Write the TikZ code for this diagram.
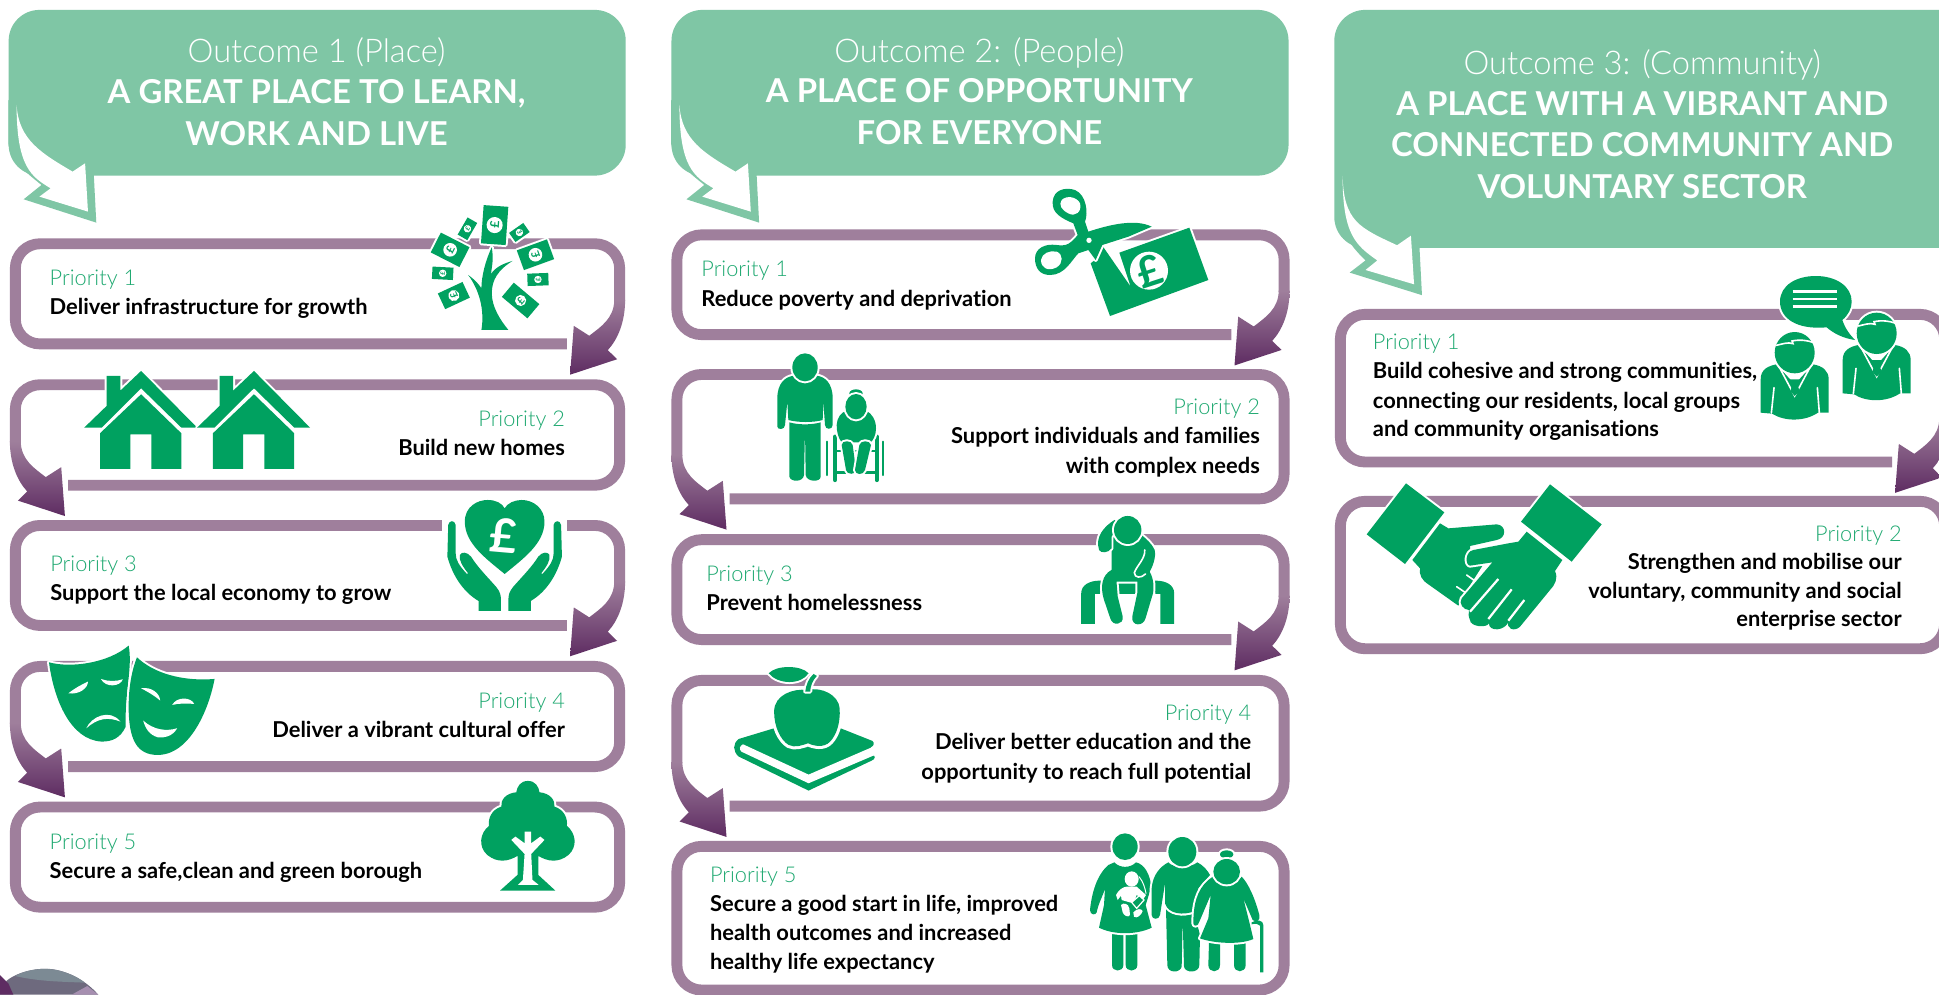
\documentclass[tikz,border=0pt]{standalone}
\usepackage{fontspec}
\setmainfont{Lato}
\newfontfamily\lightf[Ligatures=NoCommon]{Lato Light}
\newfontfamily\boldf[Ligatures=NoCommon]{Lato Bold}
\definecolor{igreen}{HTML}{00A160}
\definecolor{tgreen}{HTML}{1FA971}
\definecolor{cgreen}{HTML}{7FC6A5}
\definecolor{pbox}{HTML}{9F7F9C}
\definecolor{pdark}{HTML}{5E2C62}
\definecolor{sphA}{HTML}{6E6A7E}
\definecolor{sphB}{HTML}{7C8A94}
\definecolor{sphC}{HTML}{A68FB0}
\newcounter{tcnt}
\tikzset{
 ic/.style={fill=igreen,preaction={draw=white,line width=3.2pt,line join=round}},
 wl/.style={draw=white,line width=1.3pt,line cap=round},
 gl/.style={draw=igreen,line cap=round},
 boxline/.style={draw=pbox,line width=8.8pt,rounded corners=20pt},
 zA/.style={xscale=0.3356,yscale=0.2695},
 zE/.style={xscale=0.3193,yscale=0.351},
 crop/.style 2 args={shift={({#1/1.2366},{#2/1.2366})},scale=0.26955},
 lab/.style={inner sep=0pt,text=tgreen,font=\lightf\fontsize{17.6}{20}\selectfont},
 body/.style={inner sep=0pt,text=black,font=\boldf\fontsize{17.7}{20}\selectfont},
 toutl/.style={inner sep=0pt,text=white,font=\lightf\fontsize{26.4}{30}\selectfont},
 toutb/.style={inner sep=0pt,text=white,font=\boldf\fontsize{26.6}{30}\selectfont},
}
% text helpers: every line is a named node
\newcommand\labL[3]{\stepcounter{tcnt}\node[lab,anchor=base west] (t\thetcnt) at (#1,#2) {#3};}
\newcommand\labR[3]{\stepcounter{tcnt}\node[lab,anchor=base east] (t\thetcnt) at (#1,#2) {#3};}
\newcommand\bodL[3]{\stepcounter{tcnt}\node[body,anchor=base west] (t\thetcnt) at (#1,#2) {#3};}
\newcommand\bodR[3]{\stepcounter{tcnt}\node[body,anchor=base east] (t\thetcnt) at (#1,#2) {#3};}
\newcommand\ttlL[3]{\stepcounter{tcnt}\node[toutl,anchor=base] (t\thetcnt) at (#1,#2) {#3};}
\newcommand\ttlB[3]{\stepcounter{tcnt}\node[toutb,anchor=base] (t\thetcnt) at (#1,#2) {#3};}
% priority box with arrow: x0 arrow side, x1 far side, yT, yB, s (+1 arrow right, -1 arrow left)
\newcommand\pboxarrow[5]{%
 \draw[boxline] ({#1-#5*47},{#4-4.4}) -- ({#2+#5*4.4},{#4-4.4}) -- ({#2+#5*4.4},{#3+4.4}) -- ({#1-#5*4.4},{#3+4.4}) -- ({#1-#5*4.4},{#4-39});
 \shade[top color=pbox,bottom color=pdark] ({#1},{#4-40}) .. controls ({#1},{#4-22}) and ({#1-#5*6},{#4-8}) .. ({#1-#5*14},{#4+0.6}) -- ({#1-#5*6.5},{#4+8}) -- ({#1-#5*44.5},{#4+20.5}) -- ({#1-#5*41.5},{#4-19}) -- ({#1-#5*29},{#4-11}) .. controls ({#1-#5*20},{#4-18}) and ({#1-#5*8.8},{#4-25}) .. ({#1-#5*8.8},{#4-40}) -- cycle;
}
\newcommand\pboxplain[4]{\draw[boxline] ({#1+4.4},{#3+4.4}) -- ({#2-4.4},{#3+4.4}) -- ({#2-4.4},{#4-4.4}) -- ({#1+4.4},{#4-4.4}) -- cycle;}
\newcommand\bill[7]{\begin{scope}[shift={(#1,#2)},rotate=#3]
 \path[ic] ({-#4/2},{-#5/2}) rectangle ({#4/2},{#5/2});
 \fill[white] (0,0) circle[radius=#6pt];
 \node[transform shape,inner sep=0pt,text=igreen,rotate=90,font=\boldf\fontsize{#7}{#7}\selectfont] at (0,0) {£};
\end{scope}}
\newcommand\suitman{%
 \path[ic] (278,385) -- (278,285) .. controls (278,255) and (300,245) .. (325,240) -- (380,300) -- (435,240) .. controls (465,245) and (482,260) .. (482,285) -- (482,385) -- (450,385) .. controls (410,412) and (350,412) .. (312,388) -- cycle;
 \draw[wl] (318,310) -- (310,386); \draw[wl] (448,310) -- (454,386);
 \draw[wl] (332,245) -- (380,335) -- (428,245);
 \fill[igreen] (365,285) -- (395,285) -- (388,302) -- (395,320) -- (380,335) -- (367,320) -- (373,302) -- cycle;
 \path[ic] (380,205) ellipse[x radius=60,y radius=62];
 \draw[wl] (325,183) .. controls (340,180) and (360,172) .. (375,178) -- (372,170) .. controls (395,165) and (420,168) .. (437,175);
}
\newcommand\openhand{%
 \fill[igreen] (1078,170) -- (1080,75) .. controls (1082,60) and (1096,60) .. (1098,75) -- (1098,160) .. controls (1098,180) and (1105,195) .. (1125,222) -- (1128,220) .. controls (1115,200) and (1105,180) .. (1108,165) .. controls (1112,155) and (1125,155) .. (1135,170) .. controls (1150,200) and (1170,225) .. (1195,260) .. controls (1205,275) and (1207,285) .. (1207,300) -- (1207,333) -- (1153,333) -- (1153,303) .. controls (1115,275) and (1090,225) .. (1078,170) -- cycle;
}
\begin{document}
\begin{tikzpicture}[x=1pt,y=-1pt]
\useasboundingbox (0,0) rectangle (1568,804);
\clip (0,0) rectangle (1568,804);
\fill[white] (0,0) rectangle (1568,804);
% ---- decorative sphere, bottom left
\begin{scope}[crop={0}{950}]
 \fill[sphA] (20,92) .. controls (60,60) and (130,50) .. (170,60) .. controls (220,70) and (265,100) .. (295,134) -- (0,134) -- cycle;
 \fill[sphB] (45,78) .. controls (80,58) and (130,52) .. (170,60) .. controls (205,68) and (235,82) .. (255,98) .. controls (190,95) and (120,95) .. (45,78) -- cycle;
 \fill[pdark] (0,75) -- (25,100) -- (40,134) -- (0,134) -- cycle;
 \fill[sphC] (215,134) -- (262,108) -- (295,134) -- cycle;
\end{scope}
% ---- callouts
\foreach \dx in {0,536}{
 \begin{scope}[shift={(\dx,0)}]
  \fill[cgreen,rounded corners=25pt] (7,8) rectangle (506,142);
  \begin{scope}[zA]
   \fill[cgreen] (20,300) -- (20,430) .. controls (25,480) and (60,515) .. (100,555) -- (57,598) -- (232,668) -- (225,500) -- cycle;
   \fill[white] (40,315) .. controls (45,420) and (100,460) .. (175,515) -- (205,490) -- (212,635) -- (95,590) -- (122,565) .. controls (75,530) and (40,500) .. (40,315) -- cycle;
  \end{scope}
 \end{scope}
}
\fill[cgreen,rounded corners=25pt] (1079,8) rectangle (1600,200.5);
\begin{scope}[shift={(1067.5,0)},zE]
 \fill[cgreen] (38,400) -- (38,450) .. controls (40,520) and (70,560) .. (115,600) -- (75,628) -- (258,680) -- (250,540) -- cycle;
 \fill[white] (57,405) .. controls (60,510) and (100,525) .. (195,565) -- (230,543) -- (238,655) -- (115,622) -- (145,600) .. controls (90,565) and (57,540) .. (57,405) -- cycle;
\end{scope}
% ---- priority boxes: column 1
\pboxarrow{505.5}{8}{192.7}{282.5}{1}
\pboxarrow{8}{505.5}{306.7}{396.8}{-1}
\pboxarrow{505.5}{8}{420.5}{510.2}{1}
\pboxarrow{8}{505.5}{534.5}{624.3}{-1}
\pboxplain{8}{505.5}{648.2}{738}
% column 2
\pboxarrow{1042.8}{543}{185.5}{275}{1}
\pboxarrow{543}{1042.8}{298.4}{407.8}{-1}
\pboxarrow{1042.8}{543}{432}{521.6}{1}
\pboxarrow{543}{1042.8}{545.8}{656.3}{-1}
\pboxplain{543}{1042.8}{680}{805}
% column 3
\pboxarrow{1577}{1079.5}{249.8}{378}{1}
\pboxplain{1079.5}{1577}{401}{529}
% ---- ICONS
% money tree
\begin{scope}[zA]
 \path[ic] (1160,990) .. controls (1168,930) and (1155,870) .. (1128,825) .. controls (1145,840) and (1155,855) .. (1160,865) .. controls (1160,830) and (1170,780) .. (1185,742) .. controls (1190,780) and (1185,800) .. (1183,822) .. controls (1195,800) and (1215,790) .. (1235,783) .. controls (1200,810) and (1185,840) .. (1185,880) .. controls (1185,920) and (1205,960) .. (1225,990) -- cycle;
\end{scope}
\bill{400}{182}{-4}{20}{31}{6.5}{10}
\bill{378}{185}{-30}{9}{16}{3}{5}
\bill{420}{188}{35}{14}{9}{3}{5}
\bill{364}{202}{-27}{26}{18}{5.5}{9}
\bill{433}{206}{20}{26}{17}{5.5}{9}
\bill{358}{221}{-3}{17}{10}{3}{5}
\bill{435}{226}{2}{17}{10}{3}{5}
\bill{367}{239}{25}{22}{14}{4.5}{8}
\bill{421}{243}{-40}{27}{15}{4.5}{8}
% houses
\begin{scope}[zA]
 \foreach \dx in {0,272}{
 \begin{scope}[shift={(\dx,0)}]
  \path[ic] (203,1283) -- (257,1218) -- (257,1128) -- (290,1128) -- (290,1172) -- (340,1113) -- (475,1283) -- (437,1283) -- (340,1165) -- (245,1283) -- cycle;
  \fill[igreen] (340,1183) -- (437,1300) -- (437,1407) -- (365,1407) -- (365,1303) -- (314,1303) -- (314,1407) -- (241,1407) -- (241,1300) -- cycle;
 \end{scope}}
\end{scope}
% heart and hands
\begin{scope}[shift={(0,404.3)},zA]
 \fill[white] (1066,50) rectangle (1366,100);
 \path[ic] (1216,222) .. controls (1170,175) and (1120,130) .. (1120,65) .. controls (1120,20) and (1150,0) .. (1175,0) .. controls (1195,0) and (1210,10) .. (1216,25) .. controls (1222,10) and (1240,0) .. (1257,0) .. controls (1285,0) and (1312,25) .. (1312,65) .. controls (1312,130) and (1262,175) .. (1216,222) -- cycle;
 \openhand
 \begin{scope}[shift={(2432,0)},xscale=-1]\openhand\end{scope}
 \node[inner sep=0pt,text=white,rotate=-5,font=\boldf\fontsize{38}{38}\selectfont] (pound1) at (1213,108) {£};
\end{scope}
% masks
\begin{scope}[shift={(0,404.3)},zA]
 \path[ic] (118,487) .. controls (170,505) and (260,490) .. (310,437) .. controls (320,500) and (300,580) .. (303,680) .. controls (290,715) and (270,725) .. (245,725) .. controls (170,720) and (130,600) .. (118,487) -- cycle;
 \fill[white] (165,580) .. controls (180,565) and (195,555) .. (212,545) .. controls (212,565) and (190,585) .. (165,580) -- cycle;
 \fill[white] (243,537) .. controls (260,545) and (280,545) .. (296,538) .. controls (290,560) and (255,565) .. (243,537) -- cycle;
 \fill[white] (208,685) .. controls (220,650) and (265,625) .. (290,665) .. controls (260,650) and (235,655) .. (208,685) -- cycle;
 \path[ic] (330,472) .. controls (370,520) and (440,545) .. (517,537) .. controls (505,620) and (460,765) .. (380,765) .. controls (330,765) and (310,720) .. (310,620) .. controls (310,560) and (318,510) .. (330,472) -- cycle;
 \fill[white] (340,565) .. controls (365,560) and (385,580) .. (386,602) .. controls (370,585) and (355,575) .. (340,565) -- cycle;
 \fill[white] (415,615) .. controls (425,590) and (460,590) .. (468,612) .. controls (450,610) and (430,610) .. (415,615) -- cycle;
 \fill[white] (345,662) .. controls (370,690) and (400,695) .. (427,685) .. controls (415,710) and (395,715) .. (380,712) .. controls (360,705) and (350,685) .. (345,662) -- cycle;
\end{scope}
% oak tree
\begin{scope}[shift={(0,404.3)},zA]
 \path[ic] (1272,843) .. controls (1290,843) and (1298,860) .. (1300,877) .. controls (1325,880) and (1338,900) .. (1336,920) .. controls (1360,930) and (1368,955) .. (1366,978) .. controls (1388,1000) and (1392,1040) .. (1370,1065) .. controls (1345,1090) and (1320,1085) .. (1297,1068) -- (1297,1125) -- (1338,1172) -- (1205,1172) -- (1247,1125) -- (1247,1068) .. controls (1224,1085) and (1199,1090) .. (1174,1065) .. controls (1152,1040) and (1156,1000) .. (1178,978) .. controls (1176,955) and (1184,930) .. (1208,920) .. controls (1206,900) and (1219,880) .. (1244,877) .. controls (1246,860) and (1254,843) .. (1272,843) -- cycle;
 \fill[white] (1264,995) -- (1280,995) -- (1280,1030) -- (1302,1010) -- (1312,1020) -- (1280,1062) -- (1283,1140) -- (1298,1155) -- (1248,1155) -- (1260,1140) -- (1264,1062) -- (1232,1020) -- (1242,1010) -- (1264,1030) -- cycle;
\end{scope}
% scissors and banknote
\begin{scope}[crop={1025}{180}]
 \path[ic] (197,250) -- (255,408) -- (550,300) -- (493,143) -- (283,218) -- (317,320) -- (232,197) -- (212,238) -- cycle;
 \path[ic] (83,65) .. controls (85,30) and (120,20) .. (150,30) .. controls (185,45) and (190,100) .. (180,125) -- (190,155) .. controls (250,135) and (330,115) .. (380,140) -- (310,170) -- (232,195) -- (212,240) -- (190,210) -- (160,220) .. controls (140,240) and (120,285) .. (75,285) .. controls (45,285) and (30,265) .. (30,235) .. controls (30,205) and (60,190) .. (95,195) .. controls (115,198) and (130,200) .. (158,165) -- (145,130) .. controls (110,115) and (80,100) .. (83,65) -- cycle;
 \fill[white] (110,60) .. controls (125,45) and (155,50) .. (165,70) .. controls (172,95) and (150,112) .. (130,100) .. controls (110,90) and (100,75) .. (110,60) -- cycle;
 \fill[white] (48,240) .. controls (50,220) and (75,210) .. (95,215) .. controls (115,222) and (115,250) .. (95,262) .. controls (70,275) and (48,265) .. (48,240) -- cycle;
 \fill[white] (192,181) circle[radius=8];
 \fill[white] (372,272) circle[radius=57];
 \node[inner sep=0pt,text=igreen,rotate=18,font=\boldf\fontsize{34}{34}\selectfont] (pound2) at (372,272) {£};
\end{scope}
% man and wheelchair
\begin{scope}[crop={770}{345}]
 \path[ic] (22,245) -- (22,160) .. controls (22,115) and (45,95) .. (72,92) .. controls (85,112) and (125,112) .. (140,92) .. controls (165,95) and (188,115) .. (188,160) -- (188,240) .. controls (188,255) and (165,255) .. (165,240) -- (160,170) -- (158,225) .. controls (130,233) and (85,233) .. (55,225) -- (52,170) -- (45,240) .. controls (45,255) and (22,255) .. (22,245) -- cycle;
 \fill[igreen] (58,232) .. controls (85,240) and (125,240) .. (152,232) -- (152,395) .. controls (152,412) and (110,412) .. (107,390) -- (105,250) -- (102,390) .. controls (100,412) and (62,412) .. (58,395) -- cycle;
 \path[ic] (105,67) ellipse[x radius=38,y radius=42];
 \draw[gl,line width=1.8pt] (172,290) -- (172,390);
 \draw[gl,line width=1.8pt] (338,290) -- (338,390);
 \draw[gl,line width=3.4pt] (195,275) -- (195,405);
 \draw[gl,line width=3.4pt] (320,275) -- (320,405);
 \draw[gl,line width=2pt] (195,318) -- (320,318);
 \draw[gl,line width=2pt] (195,382) -- (320,382);
 \path[ic] (200,240) .. controls (200,220) and (215,200) .. (228,198) .. controls (235,225) and (282,225) .. (290,198) .. controls (305,205) and (318,225) .. (318,250) .. controls (318,270) and (310,285) .. (302,292) -- (215,292) .. controls (205,280) and (200,260) .. (200,240) -- cycle;
 \path[ic] (215,300) .. controls (215,285) and (245,285) .. (248,300) -- (258,375) .. controls (258,390) and (230,390) .. (228,375) -- cycle;
 \path[ic] (268,300) .. controls (272,285) and (300,285) .. (303,300) -- (285,375) .. controls (280,392) and (255,390) .. (255,375) -- cycle;
 \path[ic] (258,145) ellipse[x radius=20,y radius=12];
 \path[ic] (258,185) ellipse[x radius=32,y radius=38];
\end{scope}
% sitting person
\begin{scope}[shift={(533.7,137.5)},zA]
 \fill[igreen] (1015,1362) -- (1015,1270) .. controls (1015,1245) and (1035,1232) .. (1060,1232) -- (1065,1232) -- (1060,1272) -- (1048,1272) -- (1048,1362) -- cycle;
 \fill[igreen] (1239,1362) -- (1239,1270) .. controls (1239,1245) and (1219,1232) .. (1194,1232) -- (1189,1232) -- (1194,1272) -- (1206,1272) -- (1206,1362) -- cycle;
 \fill[igreen,rounded corners=2pt] (1098,1232) rectangle (1152,1272);
 \path[ic] (1088,1115) -- (1088,1200) .. controls (1065,1215) and (1060,1250) .. (1070,1290) -- (1085,1345) .. controls (1090,1370) and (1118,1365) .. (1115,1340) -- (1103,1280) -- (1100,1235) -- (1150,1235) -- (1150,1270) -- (1138,1340) .. controls (1135,1370) and (1165,1370) .. (1170,1345) -- (1188,1270) .. controls (1192,1240) and (1185,1215) .. (1180,1205) .. controls (1192,1180) and (1195,1150) .. (1192,1140) .. controls (1185,1120) and (1170,1105) .. (1160,1095) -- (1095,1095) -- cycle;
 \path[ic] (1058,1140) .. controls (1048,1100) and (1070,1070) .. (1095,1050) -- (1110,1060) -- (1088,1100) -- (1088,1135) .. controls (1080,1150) and (1062,1150) .. (1058,1140) -- cycle;
 \draw[wl] (1168,1140) .. controls (1170,1165) and (1150,1185) .. (1143,1208) .. controls (1143,1225) and (1160,1225) .. (1170,1212);
 \path[ic] (1127,1080) ellipse[x radius=33,y radius=42];
\end{scope}
% apple and book
\begin{scope}[shift={(533.7,517.5)},zA]
 \fill[igreen] (190,297) -- (275,265) -- (435,265) -- (512,303) .. controls (518,310) and (515,318) .. (508,322) -- (510,345) .. controls (520,345) and (520,358) .. (510,362) -- (358,452) -- (190,350) .. controls (175,335) and (175,310) .. (190,297) -- cycle;
 \fill[white] (200,313) -- (358,404) -- (518,318) -- (518,345) -- (358,430) -- (196,335) .. controls (190,328) and (192,318) .. (200,313) -- cycle;
 \path[ic,preaction={draw=white,line width=5pt,line join=round}] (355,150) .. controls (320,145) and (275,165) .. (275,215) .. controls (275,260) and (290,300) .. (310,315) .. controls (325,325) and (345,315) .. (357,310) .. controls (370,318) and (395,325) .. (410,305) .. controls (425,285) and (435,250) .. (433,205) .. controls (430,165) and (390,140) .. (355,150) -- cycle;
 \path[ic] (262,100) .. controls (280,75) and (340,75) .. (358,100) .. controls (340,135) and (285,135) .. (262,100) -- cycle;
 \path[ic] (350,155) .. controls (352,135) and (358,115) .. (370,102) -- (378,108) .. controls (368,120) and (362,140) .. (362,155) -- cycle;
\end{scope}
% family
\begin{scope}[crop={1080}{825}]
 \fill[igreen] (96,322) -- (96,420) .. controls (96,442) and (130,442) .. (130,420) -- (130,322) -- cycle;
 \fill[igreen] (137,322) -- (137,420) .. controls (137,442) and (172,442) .. (172,420) -- (172,322) -- cycle;
 \path[ic] (30,255) .. controls (35,205) and (50,150) .. (85,120) -- (103,112) .. controls (120,130) and (150,130) .. (168,112) .. controls (195,118) and (210,150) .. (214,185) -- (197,240) -- (215,308) .. controls (170,330) and (100,330) .. (57,308) -- (72,240) -- (75,190) .. controls (70,210) and (55,235) .. (50,262) .. controls (47,272) and (30,270) .. (30,255) -- cycle;
 \path[ic] (135,65) ellipse[x radius=38,y radius=40];
 \fill[white] (155,162) ellipse[x radius=21,y radius=23];
 \fill[white] (108,210) .. controls (115,195) and (130,185) .. (140,185) -- (170,185) -- (198,210) -- (190,222) -- (170,210) -- (160,235) -- (125,225) -- (123,212) -- (113,225) -- cycle;
 \fill[white] (123,240) .. controls (130,232) and (145,235) .. (148,250) -- (150,270) .. controls (145,280) and (130,270) .. (128,262) -- cycle;
 \fill[white] (160,262) .. controls (170,250) and (185,250) .. (188,258) .. controls (185,270) and (170,282) .. (162,275) -- cycle;
 \path[fill=igreen,draw=white,line width=1pt] (155,232) -- (178,212) -- (192,225) -- (170,250) -- cycle;
 \draw[wl,line width=.8pt] (177,155) .. controls (190,170) and (195,190) .. (198,205);
 \fill[igreen] (258,250) .. controls (270,270) and (310,278) .. (343,265) -- (360,330) -- (358,420) .. controls (358,445) and (315,445) .. (312,425) -- (308,285) -- (305,425) .. controls (300,445) and (262,445) .. (262,420) -- cycle;
 \path[ic] (215,270) -- (215,190) .. controls (218,150) and (240,125) .. (265,112) .. controls (280,130) and (330,130) .. (352,112) .. controls (370,120) and (385,140) .. (390,150) -- (355,190) -- (345,258) .. controls (310,272) and (265,268) .. (255,235) -- (255,175) -- (240,270) .. controls (238,285) and (215,285) .. (215,270) -- cycle;
 \path[ic] (307,80) ellipse[x radius=42,y radius=44];
 \fill[igreen] (387,350) -- (385,420) .. controls (385,445) and (420,445) .. (420,420) -- (420,350) -- cycle;
 \fill[igreen] (462,350) -- (462,420) .. controls (462,445) and (497,445) .. (497,420) -- (497,350) -- cycle;
 \path[ic] (340,295) .. controls (340,240) and (350,195) .. (385,165) -- (405,150) .. controls (420,185) and (460,185) .. (485,155) .. controls (505,175) and (525,220) .. (538,270) .. controls (542,285) and (530,295) .. (518,285) -- (490,220) -- (510,300) -- (520,342) .. controls (480,360) and (400,355) .. (360,340) -- (385,280) -- (392,210) -- (358,290) .. controls (355,305) and (340,305) .. (340,295) -- cycle;
 \path[ic] (440,88) ellipse[x radius=20,y radius=12];
 \path[ic] (440,140) ellipse[x radius=40,y radius=38];
 \fill[igreen] (515,292) .. controls (530,283) and (550,285) .. (550,300) -- (550,442) -- (540,442) -- (540,302) .. controls (535,295) and (525,295) .. (515,298) -- cycle;
\end{scope}
% speech bubble and people
\begin{scope}[crop={1750}{265}]
 \path[ic] (90,110) .. controls (90,60) and (140,33) .. (197,33) .. controls (260,33) and (305,65) .. (305,110) .. controls (305,130) and (295,150) .. (277,165) .. controls (285,190) and (300,210) .. (315,225) .. controls (280,220) and (250,205) .. (230,187) .. controls (140,195) and (90,160) .. (90,110) -- cycle;
 \draw[white,line width=2pt] (128,80) -- (262,80);
 \draw[white,line width=2pt] (128,102) -- (262,102);
 \draw[white,line width=2pt] (128,125) -- (262,125);
 \suitman
 \begin{scope}[shift={(-246,58)}]\suitman\end{scope}
\end{scope}
% handshake
\begin{scope}[crop={1355}{475}]
 \path[ic] (153,25) -- (268,112) -- (150,267) -- (35,178) -- cycle;
 \path[ic] (585,28) -- (740,148) -- (650,260) -- (498,140) -- cycle;
 \path[ic] (172,255) -- (255,145) -- (280,160) -- (425,148) .. controls (455,150) and (455,190) .. (425,195) -- (345,213) -- (345,272) -- (385,268) -- (320,370) -- (310,392) -- (220,328) .. controls (200,315) and (192,300) .. (195,280) -- cycle;
 \draw[wl] (305,335) -- (330,352);
 \draw[wl] (335,300) -- (360,318);
 \path[ic] (355,225) -- (460,205) -- (490,200) -- (515,170) -- (622,255) -- (600,288) .. controls (610,310) and (600,330) .. (585,345) -- (495,455) .. controls (478,472) and (450,460) .. (462,438) .. controls (450,470) and (400,470) .. (402,445) .. controls (395,460) and (345,455) .. (345,435) .. controls (340,425) and (340,415) .. (342,405) .. controls (325,405) and (310,385) .. (320,370) -- (412,262) -- (345,272) .. controls (330,270) and (330,230) .. (355,225) -- cycle;
 \draw[white,line width=1.8pt] (430,312) -- (345,410);
 \draw[white,line width=1.8pt] (470,343) -- (400,432);
 \draw[white,line width=1.8pt] (508,375) -- (460,437);
\end{scope}
% ---- TEXT column 1
\ttlL{256}{50.5}{Outcome 1 (Place)}
\ttlB{256}{84}{A GREAT PLACE TO LEARN,}
\ttlB{256}{117.5}{WORK AND LIVE}
\labL{40}{230.5}{Priority 1}
\bodL{40}{254}{Deliver infrastructure for growth}
\labR{457}{345}{Priority 2}
\bodR{457}{368.5}{Build new homes}
\labL{40.5}{462.3}{Priority 3}
\bodL{40.5}{485.7}{Support the local economy to grow}
\labR{457}{572.8}{Priority 4}
\bodR{457}{596}{Deliver a vibrant cultural offer}
\labL{40}{687.3}{Priority 5}
\bodL{40}{710.8}{Secure a safe,clean and green borough}
% column 2
\ttlL{792}{50.5}{Outcome 2: (People)}
\ttlB{792}{83}{A PLACE OF OPPORTUNITY}
\ttlB{792}{117}{FOR EVERYONE}
\labL{567}{223.8}{Priority 1}
\bodL{567}{247.5}{Reduce poverty and deprivation}
\labR{1019}{335}{Priority 2}
\bodR{1019}{359}{Support individuals and families}
\bodR{1019}{382.8}{with complex needs}
\labL{571}{470.4}{Priority 3}
\bodL{571}{493.8}{Prevent homelessness}
\labR{1012}{583}{Priority 4}
\bodR{1012}{606.4}{Deliver better education and the}
\bodR{1012}{630}{opportunity to reach full potential}
\labL{574}{713.7}{Priority 5}
\bodL{574}{737.2}{Secure a good start in life, improved}
\bodL{574}{760.6}{health outcomes and increased}
\bodL{574}{783.8}{healthy life expectancy}
% column 3
\ttlL{1328}{60}{Outcome 3: (Community)}
\ttlB{1328}{93}{A PLACE WITH A VIBRANT AND}
\ttlB{1328}{126.5}{CONNECTED COMMUNITY AND}
\ttlB{1328}{160.5}{VOLUNTARY SECTOR}
\labL{1110}{282.5}{Priority 1}
\bodL{1110}{306}{Build cohesive and strong communities,}
\bodL{1110}{330}{connecting our residents, local groups}
\bodL{1110}{353}{and community organisations}
\labR{1538}{437.5}{Priority 2}
\bodR{1538}{460.4}{Strengthen and mobilise our}
\bodR{1538}{484}{voluntary, community and social}
\bodR{1538}{507}{enterprise sector}
\end{tikzpicture}
\end{document}
